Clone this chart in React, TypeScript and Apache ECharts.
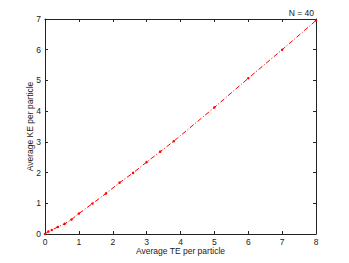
import React, { useEffect, useRef } from "react";
import * as echarts from "echarts";

const teValues = [0, 0.1, 0.2, 0.38, 0.58, 0.78, 1.0, 1.4, 1.8, 2.2, 2.6, 3.0, 3.4, 3.8, 5.0, 6.0, 7.0, 8.0];
const keValues = [0, 0.08, 0.13, 0.23, 0.33, 0.47, 0.665, 0.99, 1.32, 1.67, 1.99, 2.34, 2.68, 3.02, 4.12, 5.07, 6.0, 6.95];
const xTicks = [0, 1, 2, 3, 4, 5, 6, 7, 8];
const yTicks = [0, 1, 2, 3, 4, 5, 6, 7];
const titleText = "N = 40";
const xLabel = "Average TE per particle";
const yLabel = "Average KE per particle";

export default function App() {
  const ref = useRef<HTMLDivElement>(null);
  useEffect(() => {
    if (!ref.current) return;
    const chart = echarts.init(ref.current, null, { renderer: "svg" });
    const font = "'Liberation Sans', Arial, sans-serif";
    const axisCommon = {
      axisLine: { show: true, onZero: false, lineStyle: { color: "#222", width: 1 } },
      axisTick: { show: true, inside: true, length: 3, lineStyle: { color: "#222" } },
      splitLine: { show: false },
    };
    chart.setOption({
      animation: false,
      backgroundColor: "#fff",
      title: {
        text: titleText,
        right: 35,
        top: 8,
        padding: 0,
        textStyle: { fontSize: 8.5, fontWeight: "normal", color: "#222", fontFamily: font },
      },
      grid: { left: 45, right: 33, top: 19, bottom: 29 },
      xAxis: [
        {
          type: "value",
          min: xTicks[0],
          max: xTicks[xTicks.length - 1],
          interval: 1,
          name: xLabel,
          nameLocation: "middle",
          nameGap: 12,
          nameMoveOverlap: false,
          nameTextStyle: { fontSize: 8.5, color: "#222", fontFamily: font },
          axisLabel: { fontSize: 8.5, color: "#222", margin: 3, fontFamily: font },
          ...axisCommon,
        },
        {
          type: "value",
          position: "top",
          min: xTicks[0],
          max: xTicks[xTicks.length - 1],
          interval: 1,
          axisLabel: { show: false },
          ...axisCommon,
        },
      ],
      yAxis: [
        {
          type: "value",
          min: yTicks[0],
          max: yTicks[yTicks.length - 1],
          interval: 1,
          name: yLabel,
          nameLocation: "middle",
          nameGap: 11,
          nameMoveOverlap: false,
          nameTextStyle: { fontSize: 8.5, color: "#222", fontFamily: font },
          axisLabel: { fontSize: 8.5, color: "#222", margin: 4, fontFamily: font },
          ...axisCommon,
        },
        {
          type: "value",
          position: "right",
          min: yTicks[0],
          max: yTicks[yTicks.length - 1],
          interval: 1,
          axisLabel: { show: false },
          ...axisCommon,
        },
      ],
      series: [
        {
          type: "line",
          data: teValues.map((x, i) => [x, keValues[i]]),
          symbol: "circle",
          symbolSize: 2.5,
          itemStyle: { color: "#ff0000" },
          lineStyle: { color: "#ff0000", width: 1, type: [5, 2, 1, 2] },
          clip: false,
        },
      ],
    });
    return () => chart.dispose();
  }, []);
  return <div ref={ref} style={{ width: 349, height: 263, position: "absolute", left: 0, top: 0 }} />;
}
